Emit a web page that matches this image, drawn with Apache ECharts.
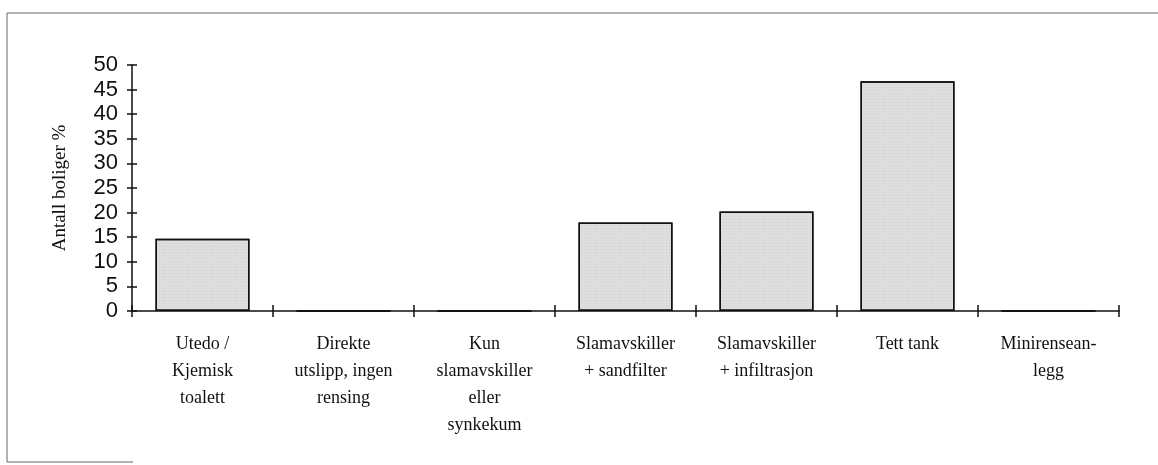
<!DOCTYPE html>
<html>
<head>
<meta charset="utf-8">
<style>
  html, body { margin: 0; padding: 0; background: #fff; }
  #chart { width: 1158px; height: 465px; }
</style>
<script src="https://cdn.jsdelivr.net/npm/echarts@6/dist/echarts.min.js"></script>
</head>
<body>
<div id="chart"></div>
<script>
const categories = [
  'Utedo /\nKjemisk\ntoalett',
  'Direkte\nutslipp, ingen\nrensing',
  'Kun\nslamavskiller\neller\nsynkekum',
  'Slamavskiller\n+ sandfilter',
  'Slamavskiller\n+ infiltrasjon',
  'Tett tank',
  'Minirensean-\nlegg'
]
const values = [14.7, 0, 0, 18, 20.2, 46.7, 0]
const yTicks = [0, 5, 10, 15, 20, 25, 30, 35, 40, 45, 50]

const chart = echarts.init(document.getElementById('chart'))

const axisColor = '#111'

const option = {
  animation: false,
  backgroundColor: '#fff',
  // scanned frame: top and left edges, short bottom stub
  graphic: [
    {
      type: 'polyline',
      shape: { points: [[1160, 13], [7, 13], [7, 462], [133, 462]] },
      style: { fill: 'none', stroke: '#666', lineWidth: 1 }
    }
  ],
  grid: { left: 132, right: 39, top: 65, bottom: 154 },
  xAxis: [
    {
      type: 'category',
      data: categories,
      axisLine: { lineStyle: { color: axisColor, width: 1.5 } },
      axisTick: { show: true, length: 6, lineStyle: { color: axisColor, width: 1.5 } },
      axisLabel: {
        interval: 0,
        margin: 20,
        color: axisColor,
        fontFamily: 'Liberation Serif',
        fontSize: 18,
        lineHeight: 27
      }
    },
    {
      type: 'category',
      data: categories,
      position: 'bottom',
      axisLine: { show: false },
      axisTick: { show: true, inside: true, length: 6, lineStyle: { color: axisColor, width: 1.5 } },
      axisLabel: { show: false }
    }
  ],
  yAxis: [
    {
      type: 'value',
      min: yTicks[0],
      max: yTicks[yTicks.length - 1],
      interval: 5,
      name: 'Antall boliger %',
      nameLocation: 'middle',
      nameGap: 62,
      nameTextStyle: { color: axisColor, fontFamily: 'Liberation Serif', fontSize: 19 },
      axisLine: { show: true, lineStyle: { color: axisColor, width: 1.5 } },
      axisTick: { show: true, length: 5, lineStyle: { color: axisColor, width: 1.5 } },
      axisLabel: {
        margin: 14,
        color: axisColor,
        fontFamily: 'Liberation Sans',
        fontSize: 22
      },
      splitLine: { show: false }
    },
    {
      type: 'value',
      position: 'left',
      min: yTicks[0],
      max: yTicks[yTicks.length - 1],
      interval: 5,
      axisLine: { show: false },
      axisTick: { show: true, inside: true, length: 5, lineStyle: { color: axisColor, width: 1.5 } },
      axisLabel: { show: false },
      splitLine: { show: false }
    }
  ],
  series: [
    {
      type: 'bar',
      data: values,
      barWidth: 94,
      itemStyle: {
        color: '#dedede',
        borderColor: axisColor,
        borderWidth: 1.5,
        decal: {
          symbol: 'rect',
          symbolSize: 0.6,
          dashArrayX: [1, 2],
          dashArrayY: [1, 2],
          color: 'rgba(90,90,90,0.35)'
        }
      }
    }
  ]
}

chart.setOption(option)
</script>
</body>
</html>
